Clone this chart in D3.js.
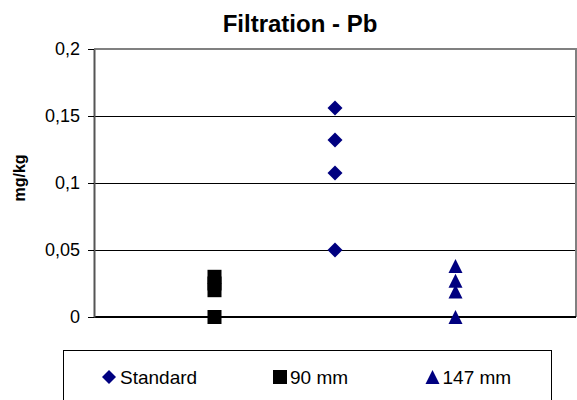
<!DOCTYPE html>
<html>
<head>
<meta charset="utf-8">
<script src="https://cdn.jsdelivr.net/npm/d3@7"></script>
<style>
  html, body { margin: 0; padding: 0; background: #fff; }
  svg { display: block; font-family: Arial, "Liberation Sans", sans-serif; }
</style>
</head>
<body>
<svg id="chart" width="577" height="400"></svg>
<script>
// ---- data ----
const title = "Filtration - Pb";
const yLabel = "mg/kg";
const seriesNames = ["Standard", "90 mm", "147 mm"];
const seriesX = [2, 1, 3];
const standardValues = [0.156, 0.132, 0.1075, 0.05];
const mm90Values = [0.030, 0.025, 0.020, 0];
const mm147Values = [0.038, 0.027, 0.019, 0];
const yTicks = [0, 0.05, 0.1, 0.15, 0.2];
const yTickLabels = ["0", "0,05", "0,1", "0,15", "0,2"];

// ---- layout ----
const svg = d3.select("#chart");
const plot = { left: 94, right: 576, top: 49, bottom: 317 };
const x = d3.scaleLinear().domain([0, 4]).range([plot.left, plot.right]);
const y = d3.scaleLinear().domain([0, 0.2]).range([plot.bottom, plot.top]);

const navy = "#000080";
const shapes = {
  diamond: s => { const h = s / 2; return `M0,${-h}L${h},0L0,${h}L${-h},0Z`; },
  square: s => { const h = s / 2; return `M${-h},${-h}H${h}V${h}H${-h}Z`; },
  triangle: s => { const h = s / 2; return `M0,${-h}L${h},${h}L${-h},${h}Z`; }
};
const series = [
  { name: seriesNames[0], xv: seriesX[0], values: standardValues, shape: "diamond", size: 15, color: navy },
  { name: seriesNames[1], xv: seriesX[1], values: mm90Values, shape: "square", size: 14, color: "#000" },
  { name: seriesNames[2], xv: seriesX[2], values: mm147Values, shape: "triangle", size: 14, color: navy }
];

// gridlines
svg.append("g")
  .selectAll("line")
  .data(yTicks.filter(t => t > 0 && t < 0.2))
  .join("line")
  .attr("x1", plot.left).attr("x2", plot.right)
  .attr("y1", d => Math.round(y(d)) + 0.5).attr("y2", d => Math.round(y(d)) + 0.5)
  .attr("stroke", "#000").attr("stroke-width", 1);

// plot area border (top/right)
svg.append("path")
  .attr("d", `M${plot.left},${plot.top}H${plot.right}V${plot.bottom}`)
  .attr("fill", "none").attr("stroke", "#808080").attr("stroke-width", 2);

// x axis line at 0
svg.append("line")
  .attr("x1", plot.left).attr("x2", plot.right)
  .attr("y1", y(0)).attr("y2", y(0))
  .attr("stroke", "#000").attr("stroke-width", 2);

// y axis
const yAxis = d3.axisLeft(y)
  .tickValues(yTicks)
  .tickFormat((d, i) => yTickLabels[i])
  .tickSizeInner(6).tickSizeOuter(0).tickPadding(8);
const ya = svg.append("g").attr("transform", `translate(${plot.left},0)`).call(yAxis);
ya.select(".domain").attr("stroke", "#555").attr("stroke-width", 2);
ya.selectAll(".tick line").attr("stroke", "#000");
ya.selectAll(".tick text").attr("font-size", 18).attr("fill", "#000")
  .attr("font-family", "Arial, 'Liberation Sans', sans-serif");

// title
svg.append("text")
  .attr("x", 300).attr("y", 32)
  .attr("text-anchor", "middle")
  .attr("font-size", 24).attr("font-weight", "bold")
  .text(title);

// y label
svg.append("text")
  .attr("transform", `translate(25,178) rotate(-90)`)
  .attr("text-anchor", "middle")
  .attr("font-size", 16).attr("font-weight", "bold")
  .text(yLabel);

// points
series.forEach(s => {
  svg.append("g")
    .selectAll("path")
    .data(s.values)
    .join("path")
    .attr("transform", d => `translate(${x(s.xv)},${y(d)})`)
    .attr("d", shapes[s.shape](s.size))
    .attr("fill", s.color);
});

// legend
const legend = svg.append("g");
legend.append("rect")
  .attr("x", 63.5).attr("y", 350.5).attr("width", 488).attr("height", 60)
  .attr("fill", "#fff").attr("stroke", "#000").attr("stroke-width", 1);
const legendX = [109, 280, 432.5];
series.forEach((s, i) => {
  const g = legend.append("g").attr("transform", `translate(${legendX[i]},377)`);
  g.append("path").attr("d", shapes[s.shape](14)).attr("fill", s.color);
  g.append("text").attr("x", i === 0 ? 11 : 10).attr("y", 7).attr("font-size", 19).text(s.name);
});
</script>
</body>
</html>
